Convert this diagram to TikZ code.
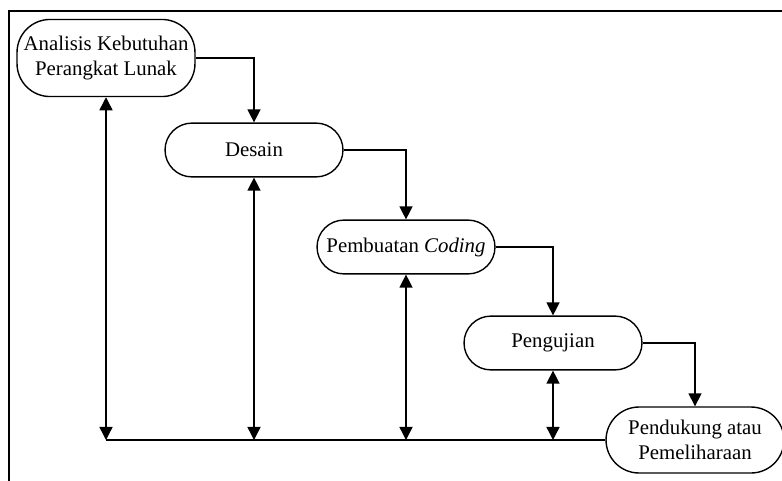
\documentclass[tikz,border=0pt]{standalone}
\usepackage{fontspec}
\setmainfont{Liberation Serif}
\usetikzlibrary{arrows.meta}

\begin{document}
\begin{tikzpicture}[x=0.576pt, y=-0.576pt, line width=0.8pt,
		font=\fontsize{12}{14.5}\selectfont,
		tahap/.style={draw, rectangle, rounded corners=15.5pt, minimum width=102.5pt, minimum height=31pt, inner sep=0pt, align=center},
		>={Triangle[length=7.5pt, width=7.5pt]}]
					\clip (0,0) rectangle (782,480);
					\useasboundingbox (0,0) rectangle (782,480);
					\draw (9,11) rectangle (792,492);
					\node[tahap, minimum height=44.4pt, rounded corners=19pt] (analisis)at(106, 58) {Analisis Kebutuhan\\Perangkat Lunak};
					\node[tahap] (desain)at(254, 150) {Desain};
					\node[tahap] (coding)at(406, 247) {Pembuatan \textit{Coding}};
					\node[tahap] (uji)at(553, 343) {Pengujian};
					\node[tahap, minimum height=38pt, rounded corners=19pt] (dukung)at(695, 440) {Pendukung atau\\Pemeliharaan};
					\draw[->] (analisis) -| (desain);
					\draw[->] (desain) -| (coding);
					\draw[->] (coding) -| (uji);
					\draw[->] (uji) -| (dukung);
					\draw (analisis |- dukung.west) -- (dukung.west);
					\draw[<->] (analisis) -- (analisis |- dukung.west);
					\draw[<->] (desain) -- (desain |- dukung.west);
					\draw[<->] (coding) -- (coding |- dukung.west);
					\draw[<->] (uji) -- (uji |- dukung.west);
				\end{tikzpicture}
\end{document}
